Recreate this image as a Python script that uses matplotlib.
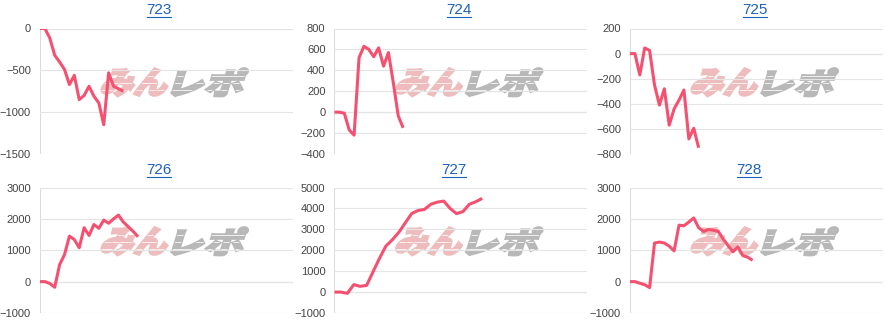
import numpy as np
import matplotlib
matplotlib.use("Agg")
import matplotlib.pyplot as plt
from matplotlib.textpath import TextPath
from matplotlib.patches import PathPatch
from matplotlib.font_manager import FontProperties
from matplotlib.transforms import Affine2D, IdentityTransform
from matplotlib.lines import Line2D

plt.rcParams['font.family'] = ['Liberation Sans', 'DejaVu Sans']

# machine numbers (chart titles)
titles = ["723", "724", "725", "726", "727", "728"]

# cumulative difference per data point
diff_723 = [0, 0, -115, -320, -400, -490, -670, -560, -850, -800, -690, -810,
            -890, -1150, -530, -690, -720, -750]
diff_724 = [0, 0, -10, -170, -220, 520, 630, 600, 530, 615, 440, 570, 280, -35, -150]
diff_725 = [0, 0, -170, 45, 25, -250, -410, -280, -570, -440, -370, -290, -680, -595, -750]
diff_726 = [0, 0, -60, -180, 540, 860, 1450, 1340, 1080, 1720, 1470, 1820, 1700,
            1960, 1860, 2000, 2120, 1900, 1750, 1600, 1430]
diff_727 = [0, 0, -60, 355, 275, 320, 970, 1610, 2200, 2500, 2850, 3300, 3750,
            3900, 3950, 4200, 4300, 4350, 4000, 3750, 3850, 4200, 4320, 4480]
diff_728 = [0, 0, -50, -100, -190, 1230, 1260, 1230, 1130, 980, 1800, 1780, 1900,
            2030, 1720, 1600, 1660, 1640, 1600, 1360, 1150, 950, 1110, 830, 780, 680]
series = [diff_723, diff_724, diff_725, diff_726, diff_727, diff_728]

# spacing of the data points along the x axis (727 was sampled more coarsely)
x_steps = [1, 1, 1, 1, 1.31, 1]
x_max = 51.6

yticks = [
    [-1500, -1000, -500, 0],
    [-400, -200, 0, 200, 400, 600, 800],
    [-800, -600, -400, -200, 0, 200],
    [-1000, 0, 1000, 2000, 3000],
    [-1000, 0, 1000, 2000, 3000, 4000, 5000],
    [-1000, 0, 1000, 2000, 3000],
]

LINE = '#f5506f'
GRID = '#e4e4e4'
TITLE = '#1c62b9'
W, H = 887, 321

fig = plt.figure(figsize=(W / 100, H / 100), dpi=100)

lefts = [40, 334.5, 630]
tops = [28.5, 187.5]
ax_w, ax_h = 253, 125.5
title_pos = [(159, 10.5), (459, 10.5), (755, 10.5),
             (159, 170.5), (454, 170.5), (749, 170.5)]

wm_font = FontProperties(family='Noto Sans CJK JP', weight='heavy')


def wm_piece(ax, text, x0, y0, width, color):
    """one skewed, heavy chunk of the watermark, returns its right edge"""
    p = TextPath((0, 0), text, size=30, prop=wm_font)
    ext = p.get_extents()
    sx = width / ext.width
    tr = (Affine2D().translate(-ext.x0, -ext.y0).scale(sx, 28 / ext.height)
          .skew_deg(17, 0).translate(x0, y0))
    patch = PathPatch(p, transform=tr, facecolor=color, edgecolor=color,
                      lw=1.6, zorder=1, clip_on=False)
    ax.add_patch(patch)
    # speed-line stripes cut through the letters
    for dy in (6, 13, 20):
        ln = Line2D([x0 - 5, x0 + width + 15], [y0 + dy, y0 + dy],
                    transform=IdentityTransform(), color='white', lw=0.7,
                    alpha=0.8, zorder=1.2)
        ln.set_clip_path(patch)
        ax.add_line(ln)
    return x0 + width


def draw_watermark(ax):
    bb = ax.get_position()
    x0 = (bb.x0 + 0.235 * bb.width) * W
    y0 = (bb.y0 + 0.46 * bb.height) * H
    x1 = wm_piece(ax, "みん", x0, y0, 65, '#eebcbc')
    wm_piece(ax, "レポ", x1 + 6, y0, 70, '#b8b8b8')


title_texts = []
for i, (name, vals) in enumerate(zip(titles, series)):
    row, col = divmod(i, 3)
    left, top = lefts[col], tops[row]
    ax = fig.add_axes([left / W, 1 - (top + ax_h) / H, ax_w / W, ax_h / H])
    x = np.arange(len(vals)) * x_steps[i]
    ax.plot(x, vals, color=LINE, lw=2.2, solid_joinstyle='round',
            solid_capstyle='butt', zorder=3)
    yt = yticks[i]
    ax.set_xlim(0, x_max)
    ax.set_ylim(yt[0], yt[-1])
    ax.set_yticks(yt)
    ax.set_xticks([])
    ax.grid(True, axis='y', color=GRID, lw=0.8, zorder=0)
    ax.axhline(0, color='#c9c9c9', lw=0.8, zorder=0.5)
    ax.axvline(0, color='#dcdcdc', lw=0.8, zorder=0.5)
    for s in ax.spines.values():
        s.set_visible(False)
    ax.tick_params(axis='y', length=0, pad=6.5, labelsize=8, labelcolor='#444444')
    draw_watermark(ax)

    tx, ty = title_pos[i]
    t = fig.text(tx / W, 1 - ty / H, name, ha='center', va='center',
                 fontsize=11, color=TITLE)
    title_texts.append(t)

# underline the titles (they are links on the page)
fig.canvas.draw()
renderer = fig.canvas.get_renderer()
for t in title_texts:
    bb = t.get_window_extent(renderer)
    fig.add_artist(Line2D([bb.x0 + 0.5, bb.x1 - 0.5], [bb.y0 + 1, bb.y0 + 1],
                          transform=IdentityTransform(), color=TITLE, lw=0.8))

fig.savefig("out.png", dpi=100)
